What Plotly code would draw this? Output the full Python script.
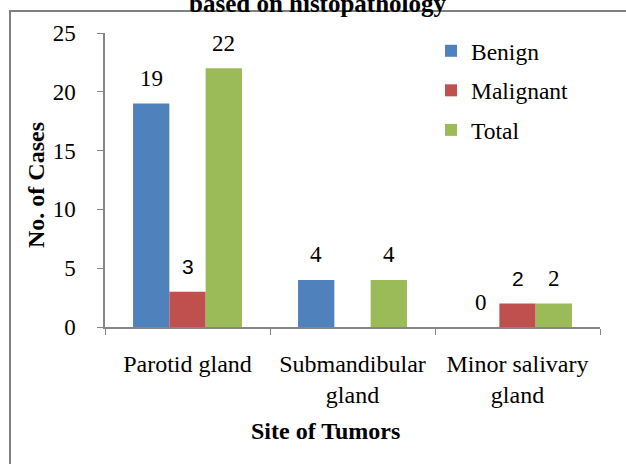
import plotly.graph_objects as go

categories = ["Parotid gland", "Submandibular<br>gland", "Minor salivary<br>gland"]
benign = [19, 4, 0]
malignant = [3, 0, 2]
total = [22, 4, 2]
benign_labels = ["19", "4", "0"]
malignant_labels = ["3", "", "2"]
total_labels = ["22", "4", "2"]
y_ticks = [0, 5, 10, 15, 20, 25]

SERIF = "Liberation Serif"
SANS = "Liberation Sans"

W, H = 626, 464
L, R, T, B = 105, 26, 33, 137
PW, PH = W - L - R, H - T - B

def px(x):
    return (x - L) / PW

def py(y):
    return (H - B - y) / PH

fig = go.Figure()
series = [("Benign", benign, "#4F81BD"), ("Malignant", malignant, "#C0504D"), ("Total", total, "#9BBB59")]
for i, (name, vals, col) in enumerate(series):
    fig.add_trace(go.Bar(x=categories, y=vals, name=name, marker=dict(color=col, line=dict(width=0)),
                         legendgroup=name))

bargap = 0.34
bw = PW / 3 * (1 - bargap) / 3
label_sets = [(benign, benign_labels, SERIF, 23), (malignant, malignant_labels, SANS, 21), (total, total_labels, SERIF, 23)]
for i, (vals, labs, fam, sz) in enumerate(label_sets):
    for c, v, t in zip(categories, vals, labs):
        if t == "":
            continue
        fig.add_annotation(x=c, y=v, xref="x", yref="y", text=t, showarrow=False,
                           xshift=(i - 1) * bw, yshift=25, yanchor="middle",
                           font=dict(family=fam, size=sz, color="black"))

fig.add_annotation(x=px(318), y=py(3), xref="paper", yref="paper", text="<b>based on histopathology</b>",
                   showarrow=False, xanchor="center", yanchor="middle",
                   font=dict(family=SERIF, size=25, color="black"))
fig.add_annotation(x=px(325), y=py(431), xref="paper", yref="paper", text="<b>Site of Tumors</b>",
                   showarrow=False, xanchor="center", yanchor="middle",
                   font=dict(family=SERIF, size=24, color="black"))
fig.add_annotation(x=px(36), y=py(185), xref="paper", yref="paper", text="<b>No. of Cases</b>",
                   showarrow=False, xanchor="center", yanchor="middle", textangle=-90,
                   font=dict(family=SERIF, size=24, color="black"))

fig.add_shape(type="rect", xref="paper", yref="paper", x0=px(10), x1=px(660), y0=py(500), y1=py(11),
              line=dict(color="#808080", width=2), fillcolor="rgba(0,0,0,0)", layer="below")

fig.update_layout(
    width=W, height=H, margin=dict(l=L, r=R, t=T, b=B),
    paper_bgcolor="white", plot_bgcolor="white",
    barmode="group", bargap=bargap, bargroupgap=0,
    showlegend=True,
    legend=dict(x=px(431), y=py(29), xanchor="left", yanchor="top", tracegroupgap=6,
                font=dict(family=SERIF, size=23.5, color="black"), bgcolor="rgba(0,0,0,0)",
                itemclick=False),
    font=dict(family=SERIF, size=24, color="black"),
)
fig.update_xaxes(showline=True, linecolor="#868686", linewidth=1.5, ticks="outside", tickson="boundaries",
                 ticklen=6, tickcolor="#868686", tickfont=dict(family=SERIF, size=24, color="black"),
                 ticklabelstandoff=14, showgrid=False)
fig.update_yaxes(range=[0, 25], tickvals=y_ticks, showline=True, linecolor="#868686", linewidth=1.5,
                 ticks="outside", ticklen=6, tickcolor="#868686", showgrid=False, zeroline=False,
                 tickfont=dict(family=SERIF, size=23, color="black"), ticklabelstandoff=17)

fig.write_html("out.html", config={"displayModeBar": False},
               post_script="document.body.style.margin='0';")
